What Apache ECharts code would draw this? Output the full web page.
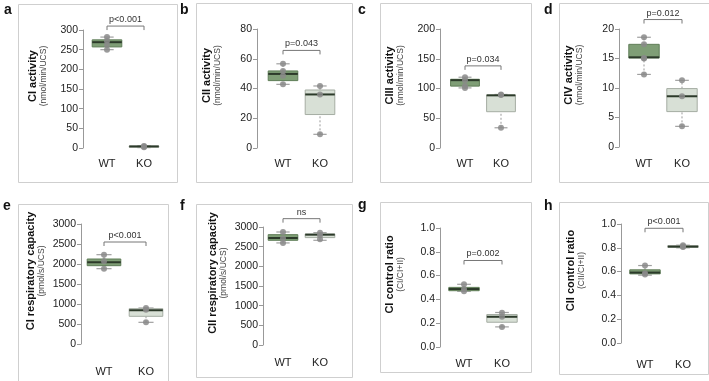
<!DOCTYPE html>
<html>
<head>
<meta charset="utf-8">
<script src="https://cdn.jsdelivr.net/npm/echarts@6/dist/echarts.min.js"></script>
<style>
  html, body { margin: 0; padding: 0; background: #fff; }
  #chart { width: 709px; height: 381px; }
</style>
</head>
<body>
<div id="chart"></div>
<script>
// 数据
const categories = ['WT', 'KO']
const panelLetters = ['a', 'b', 'c', 'd', 'e', 'f', 'g', 'h']
const yTitles = ['CI activity', 'CII activity', 'CIII activity', 'CIV activity',
  'CI respiratory capacity', 'CII respiratory capacity', 'CI control ratio', 'CII control ratio']
const ySubtitles = ['(nmol/min/UCS)', '(nmol/min/UCS)', '(nmol/min/UCS)', '(nmol/min/UCS)',
  '(pmol/s/UCS)', '(pmol/s/UCS)', '(CI/CI+II)', '(CII/CI+II)']
const yMax = [300, 80, 200, 20, 3000, 3000, 1, 1]
const yInterval = [50, 20, 50, 5, 500, 500, 0.2, 0.2]

// [min, Q1, median, Q3, max]
const wtBox = [
  [250, 257, 269, 275, 282], [42.8, 45.3, 49.8, 51.8, 56.6], [101, 104, 114, 115.5, 119], [12.3, 15.1, 15.2, 17.4, 18.6],
  [1883, 1958, 2042, 2125, 2233], [2595, 2662, 2721, 2805, 2873], [0.468, 0.473, 0.487, 0.501, 0.527], [0.57, 0.581, 0.592, 0.615, 0.651]
]
const koBox = [
  [1, 2, 4, 5, 6], [9.2, 22.5, 36, 39, 41.7], [34, 61, 88.5, 89, 90], [3.5, 6.0, 8.6, 9.9, 11.3],
  [542, 692, 842, 883, 900], [2662, 2730, 2805, 2822, 2856], [0.169, 0.208, 0.254, 0.273, 0.29], [0.80, 0.804, 0.81, 0.818, 0.822]
]
const wtPoints = [
  [282, 272, 262, 250], [56.6, 51.8, 48.5, 42.8], [119, 114, 104, 101], [18.6, 17.4, 15.0, 15.1, 12.3],
  [2233, 2067, 1883], [2873, 2705, 2595], [0.527, 0.487, 0.468], [0.651, 0.587, 0.575]
]
const koPoints = [
  [2, 4, 5], [41.7, 36, 9.2], [90, 89, 34], [11.3, 8.6, 3.5],
  [900, 858, 542], [2856, 2790, 2690], [0.287, 0.254, 0.169], [0.822, 0.81, 0.806]
]
const pTexts = ['p<0.001', 'p=0.043', 'p=0.034', 'p=0.012', 'p<0.001', 'ns', 'p=0.002', 'p<0.001']
const bracketY = [310, 65.6, 138, 21.6, 2550, 3212, 0.727, 0.964]

// 版面 (像素)
const layout = [
  { axisX: 83, wt: 107, ko: 144, top: 30, bottom: 148, labelGap: 10, frame: [16, 2, 159, 178], letter: [4, 3] },
  { axisX: 257, wt: 283, ko: 320, top: 29, bottom: 148, labelGap: 10, frame: [194, 1, 156, 179], letter: [180, 3] },
  { axisX: 440, wt: 465, ko: 501, top: 29, bottom: 148, labelGap: 10, frame: [378, 1, 151, 179], letter: [358, 3] },
  { axisX: 619, wt: 644, ko: 682, top: 29, bottom: 147, labelGap: 11, frame: [557, 1, 151, 179], letter: [544, 3] },
  { axisX: 81, wt: 104, ko: 146, top: 224, bottom: 344, labelGap: 22, frame: [16, 202, 150, 177], letter: [3, 199] },
  { axisX: 263, wt: 283, ko: 320, top: 227, bottom: 345, labelGap: 12, frame: [194, 202, 156, 173], letter: [180, 199] },
  { axisX: 440, wt: 464, ko: 502, top: 228, bottom: 347, labelGap: 11, frame: [378, 200, 151, 170], letter: [358, 198] },
  { axisX: 621, wt: 645, ko: 683, top: 224, bottom: 343, labelGap: 16, frame: [557, 200, 149, 172], letter: [544, 199] }
]

const FONT = '"Liberation Sans", Arial, Helvetica, sans-serif'
const boxFill = ['#7f9e76', '#d8e0d6']
const boxStroke = ['#5f7d57', '#a5ada3']

const chart = echarts.init(document.getElementById('chart'), null, { renderer: 'canvas' })

const grids = []
const xAxes = []
const yAxes = []
const series = []
const graphics = []

/**
 * 箱线图绘制
 */
const renderBox = (params, api) => {
  const cat = api.value(0)
  const pMin = api.coord([cat, api.value(1)])
  const pQ1 = api.coord([cat, api.value(2)])
  const pMed = api.coord([cat, api.value(3)])
  const pQ3 = api.coord([cat, api.value(4)])
  const pMax = api.coord([cat, api.value(5)])
  const bw = api.size([1, 0])[0] * 0.8
  const cx = pMed[0]
  const cap = bw * 0.45
  const whisker = { stroke: '#9a9a9a', lineWidth: 1, lineDash: [2, 2] }
  const capStyle = { stroke: '#a0a0a0', lineWidth: 1.2 }
  return {
    type: 'group',
    children: [
      { type: 'line', shape: { x1: cx, y1: pMin[1], x2: cx, y2: pQ1[1] }, style: whisker },
      { type: 'line', shape: { x1: cx, y1: pQ3[1], x2: cx, y2: pMax[1] }, style: whisker },
      { type: 'line', shape: { x1: cx - cap / 2, y1: pMin[1], x2: cx + cap / 2, y2: pMin[1] }, style: capStyle },
      { type: 'line', shape: { x1: cx - cap / 2, y1: pMax[1], x2: cx + cap / 2, y2: pMax[1] }, style: capStyle },
      {
        type: 'rect',
        shape: { x: cx - bw / 2, y: pQ3[1], width: bw, height: pQ1[1] - pQ3[1] },
        style: { fill: boxFill[cat], stroke: boxStroke[cat], lineWidth: 1 }
      },
      { type: 'line', shape: { x1: cx - bw / 2, y1: pMed[1], x2: cx + bw / 2, y2: pMed[1] }, style: { stroke: '#2c3a2a', lineWidth: 2 } }
    ]
  }
}

/**
 * 显著性括号
 */
const renderBracket = (text) => (params, api) => {
  const p1 = api.coord([api.value(0), api.value(2)])
  const p2 = api.coord([api.value(1), api.value(2)])
  const stroke = { stroke: '#777', lineWidth: 1 }
  return {
    type: 'group',
    children: [
      { type: 'line', shape: { x1: p1[0], y1: p1[1], x2: p2[0], y2: p2[1] }, style: stroke },
      { type: 'line', shape: { x1: p1[0], y1: p1[1], x2: p1[0], y2: p1[1] + 4 }, style: stroke },
      { type: 'line', shape: { x1: p2[0], y1: p2[1], x2: p2[0], y2: p2[1] + 4 }, style: stroke },
      {
        type: 'text',
        style: {
          x: (p1[0] + p2[0]) / 2, y: p1[1] - 2, text: text,
          textAlign: 'center', textVerticalAlign: 'bottom',
          fontSize: 9, fontFamily: FONT, fill: '#333'
        }
      }
    ]
  }
}

panelLetters.forEach((letter, i) => {
  const L = layout[i]
  const sp = L.ko - L.wt
  const left = L.wt - sp / 2

  grids.push({ left: left, top: L.top, width: sp * 2, height: L.bottom - L.top })

  xAxes.push({
    type: 'category', gridIndex: i, data: categories, boundaryGap: true,
    axisLine: { show: false }, axisTick: { show: false },
    axisLabel: { margin: L.labelGap, fontSize: 11, color: '#222', fontFamily: FONT }
  })

  yAxes.push({
    type: 'value', gridIndex: i, min: 0, max: yMax[i], interval: yInterval[i],
    offset: left - L.axisX,
    axisLine: { show: true, lineStyle: { color: '#999', width: 1 } },
    axisTick: { show: true, length: 4, lineStyle: { color: '#999' } },
    splitLine: { show: false },
    axisLabel: {
      fontSize: 10.5, color: '#222', fontFamily: FONT, margin: 5,
      formatter: (v) => (yMax[i] === 1 ? v.toFixed(1) : String(v))
    },
    name: '{t|' + yTitles[i] + '}\n{s|' + ySubtitles[i] + '}',
    nameLocation: 'middle', nameRotate: 90, nameGap: 34,
    nameTextStyle: {
      fontFamily: FONT, padding: [0, 0, 0, 26],
      rich: {
        t: { fontSize: 11, fontWeight: 'bold', color: '#111', lineHeight: 12, fontFamily: FONT },
        s: { fontSize: 8.5, color: '#444', lineHeight: 10, fontFamily: FONT }
      }
    }
  })

  series.push({
    type: 'custom', xAxisIndex: i, yAxisIndex: i,
    renderItem: renderBox,
    encode: { x: 0, y: [1, 2, 3, 4, 5] },
    data: [[0].concat(wtBox[i]), [1].concat(koBox[i])],
    z: 2
  })

  series.push({
    type: 'scatter', xAxisIndex: i, yAxisIndex: i,
    symbolSize: 6,
    itemStyle: { color: '#8a8a8a', opacity: 0.85 },
    data: wtPoints[i].map((v) => [0, v]).concat(koPoints[i].map((v) => [1, v])),
    z: 3
  })

  series.push({
    type: 'custom', xAxisIndex: i, yAxisIndex: i,
    renderItem: renderBracket(pTexts[i]),
    clip: false,
    encode: { x: [0, 1], y: 2 },
    data: [[0, 1, bracketY[i]]],
    z: 4
  })

  graphics.push({
    type: 'rect', left: L.frame[0], top: L.frame[1],
    shape: { width: L.frame[2], height: L.frame[3] },
    style: { fill: 'none', stroke: '#cfcfcf', lineWidth: 1 }, z: -1
  })
  graphics.push({
    type: 'text', left: L.letter[0], top: L.letter[1],
    style: { text: letter, fontSize: 14, fontWeight: 'bold', fill: '#111', font: 'bold 14px ' + FONT }
  })
})

chart.setOption({
  animation: false,
  backgroundColor: '#fff',
  grid: grids,
  xAxis: xAxes,
  yAxis: yAxes,
  series: series,
  graphic: graphics
})
</script>
</body>
</html>
